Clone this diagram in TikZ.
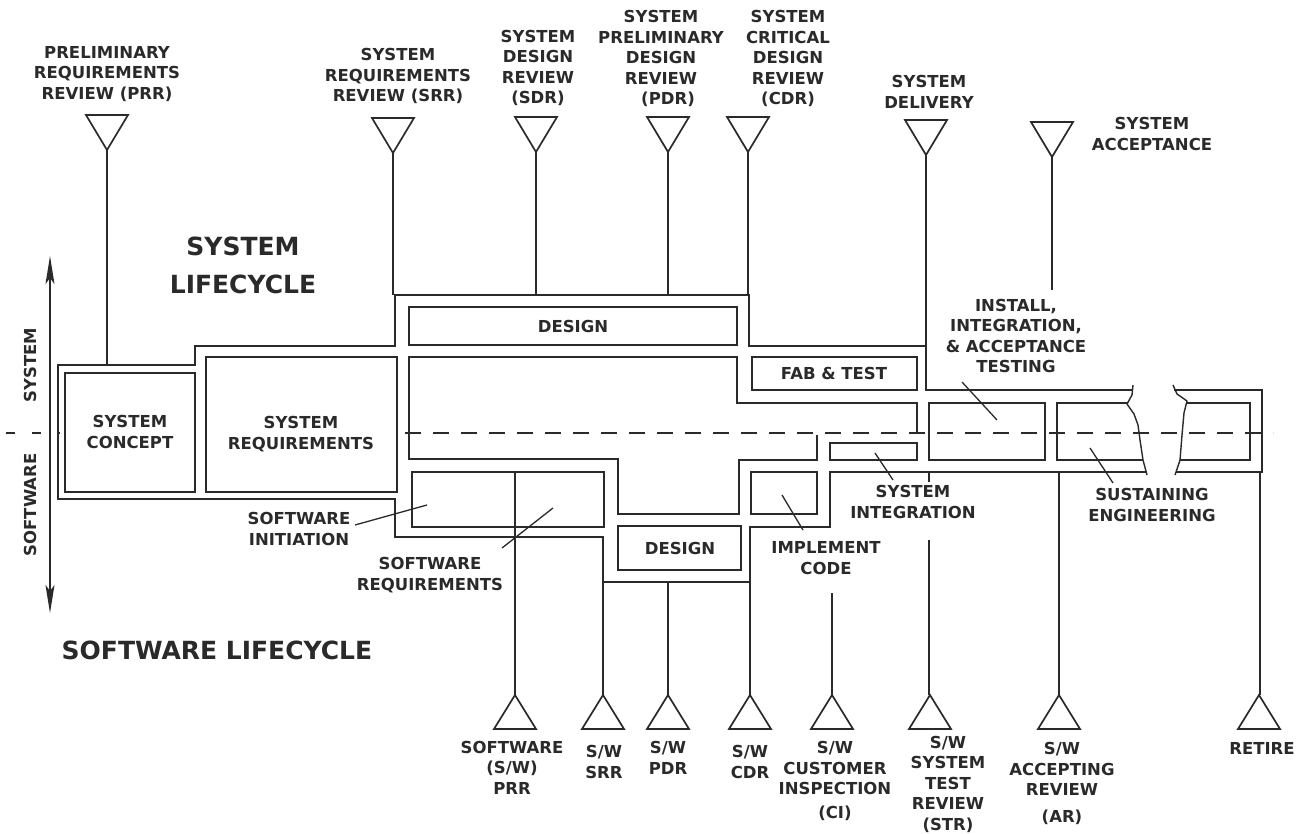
\documentclass[tikz,border=0pt]{standalone}
\usepackage{fontspec}
\setmainfont{DejaVu Sans}
\usetikzlibrary{arrows.meta}
\definecolor{ink}{HTML}{2A2A2A}
\begin{document}
\begin{tikzpicture}[x=1pt,y=-1pt,
  wall/.style={draw=ink,line width=2.7pt,line join=miter},
  pole/.style={draw=ink,line width=1.4pt},
  lead/.style={draw=ink,line width=1.3pt},
  brk/.style={draw=ink,line width=1.4pt,line join=round},
  tri/.style={draw=ink,line width=1.7pt,line join=miter},
  lbl/.style={text=ink,font=\bfseries\fontsize{16.5}{20.5}\selectfont,align=center,inner sep=0pt},
  big/.style={text=ink,font=\bfseries\fontsize{25}{38}\selectfont,align=center,inner sep=0pt},
  downtri/.pic={\draw[tri] (-21,0) -- (21,0) -- (0,35) -- cycle;},
  uptri/.pic={\draw[tri] (-21,0) -- (21,0) -- (0,-34) -- cycle;}
  ]
\useasboundingbox (0,0) rectangle (1304,834);
\fill[white] (0,0) rectangle (1304,834);

% ---------- outer contour ----------
\draw[wall] (1147,472) -- (830,472) -- (830,527) -- (750,527) -- (750,582) -- (603,582) -- (603,537)
  -- (395,537) -- (395,499) -- (58,499) -- (58,365) -- (195,365) -- (195,346) -- (395,346)
  -- (395,295) -- (749,295) -- (749,346) -- (926,346) -- (926,390) -- (1133,390);
\draw[wall] (1174,390) -- (1262,390) -- (1262,472) -- (1176,472);

% ---------- inner boxes ----------
\draw[wall] (65,373) rectangle (195,492);
\draw[wall] (206,357) rectangle (397,492);
\draw[wall] (409,307) rectangle (737,345);
\draw[wall] (817,435) -- (817,460) -- (739,460) -- (739,514) -- (618,514) -- (618,459) -- (409,459)
  -- (409,357) -- (737,357) -- (737,403) -- (917,403) -- (917,433);
\draw[wall] (752,357) rectangle (917,390);
\draw[wall] (830,443) rectangle (917,460);
\draw[wall] (751,472) rectangle (817,514);
\draw[wall] (412,472) rectangle (604,527);
\draw[wall] (618,526) rectangle (741,570);
\draw[wall] (929,403) rectangle (1045,460);
\draw[wall] (1128,403) -- (1057,403) -- (1057,460) -- (1143,460);
\draw[wall] (1186,403) -- (1250,403) -- (1250,460) -- (1180,460);

% break lines
\draw[brk] (1133,385) -- (1132,395) -- (1127,404) -- (1134,414) -- (1138,425) -- (1140,440) -- (1143,460) -- (1147,475);
\draw[brk] (1173,385) -- (1177,394) -- (1187,401) -- (1184,413) -- (1182,435) -- (1180,460) -- (1175,475);

% dashed centre line
\draw[draw=ink,line width=2pt,dash pattern=on 16pt off 12pt] (405,433) -- (1273,433);
\draw[draw=ink,line width=2pt,dash pattern=on 9pt off 17pt] (6,433) -- (60,433);

% vertical axis arrow
\coordinate (axT) at (50,256);
\coordinate (axB) at (50,613);
\draw[draw=ink,line width=1.6pt,{Stealth[length=28pt,width=9pt,inset=6pt]}-{Stealth[length=28pt,width=9pt,inset=6pt]}] (axT) -- (axB);

% ---------- top milestones ----------
\pic at (107,115) {downtri};
\pic at (393,118) {downtri};
\pic at (536,117) {downtri};
\pic at (668,117) {downtri};
\pic at (748,117) {downtri};
\pic at (926,120) {downtri};
\pic at (1052,122) {downtri};
\draw[pole] (107,150) -- (107,365);
\draw[pole] (393,153) -- (393,295);
\draw[pole] (536,152) -- (536,295);
\draw[pole] (668,152) -- (668,295);
\draw[pole] (748,152) -- (748,295);
\draw[pole] (926,155) -- (926,346);
\draw[pole] (1052,157) -- (1052,290);

% ---------- bottom milestones ----------
\foreach \x in {515,603,668,750,832,930,1059,1259} {\pic at (\x,729) {uptri};}
\draw[pole] (515,472) -- (515,695);
\draw[pole] (603,582) -- (603,695);
\draw[pole] (668,582) -- (668,695);
\draw[pole] (750,582) -- (750,695);
\draw[pole] (832,593) -- (832,695);
\draw[pole] (929,472) -- (929,482);
\draw[pole] (929,540) -- (929,695);
\draw[pole] (1059,472) -- (1059,695);
\draw[pole] (1260,472) -- (1260,695);

% ---------- labels ----------
\node[lbl] (prr) at (107,74) {PRELIMINARY\\REQUIREMENTS\\REVIEW (PRR)};
\node[lbl] (srr) at (398,76) {SYSTEM\\REQUIREMENTS\\REVIEW (SRR)};
\node[lbl] (sdr) at (538,68) {SYSTEM\\DESIGN\\REVIEW\\(SDR)};
\node[lbl] (pdr) at (661,58.5) {SYSTEM\\PRELIMINARY\\DESIGN\\REVIEW\\\hspace*{14pt}(PDR)};
\node[lbl] (cdr) at (788,58.5) {SYSTEM\\CRITICAL\\DESIGN\\REVIEW\\(CDR)};
\node[lbl] (del) at (929,92) {SYSTEM\\DELIVERY};
\node[lbl] (acc) at (1152,134) {SYSTEM\\ACCEPTANCE};

\node[big] (slc) at (243,265) {SYSTEM\\LIFECYCLE};
\node[big] (swlc) at (217,650) {SOFTWARE LIFECYCLE};
\node[lbl,rotate=90] (vsys) at (30,365) {SYSTEM};
\node[lbl,rotate=90] (vsw) at (30,505) {SOFTWARE};

\node[lbl] (concept) at (130,432) {SYSTEM\\CONCEPT};
\node[lbl] (sysreq) at (301,434) {SYSTEM\\REQUIREMENTS};
\node[lbl] (design1) at (573,326) {DESIGN};
\node[lbl] (fab) at (834,373) {FAB \& TEST};
\node[lbl] (design2) at (680,548) {DESIGN};
\node[lbl] (install) at (1016,336) {INSTALL,\\INTEGRATION,\\\& ACCEPTANCE\\TESTING};
\node[lbl] (sysint) at (913,502) {SYSTEM\\INTEGRATION};
\node[lbl] (sustain) at (1152,505) {SUSTAINING\\ENGINEERING};
\node[lbl] (impl) at (826,558) {IMPLEMENT\\CODE};
\node[lbl] (swreq) at (430,575) {SOFTWARE\\REQUIREMENTS};
\node[lbl] (swinit) at (299,529) {SOFTWARE\\INITIATION};

\node[lbl] (bprr) at (512,767.5) {SOFTWARE\\(S/W)\\PRR};
\node[lbl] (bsrr) at (604,762) {S/W\\SRR};
\node[lbl] (bpdr) at (668,758) {S/W\\PDR};
\node[lbl] (bcdr) at (750,762) {S/W\\CDR};
\node[lbl] (bci) at (835,781) {S/W\\CUSTOMER\\INSPECTION\\[3pt](CI)};
\node[lbl] (bstr) at (948,784) {S/W\\SYSTEM\\TEST\\REVIEW\\(STR)};
\node[lbl] (bar) at (1062,783.5) {S/W\\ACCEPTING\\REVIEW\\[6pt](AR)};
\node[lbl] (bret) at (1262,748) {RETIRE};

% ---------- leaders ----------
\coordinate (l1a) at (355,525); \coordinate (l1b) at (427,505);
\coordinate (l2a) at (502,548); \coordinate (l2b) at (553,508);
\coordinate (l3a) at (803,530); \coordinate (l3b) at (782,495);
\coordinate (l4a) at (893,480); \coordinate (l4b) at (875,453);
\coordinate (l5a) at (962,382); \coordinate (l5b) at (997,420);
\coordinate (l6a) at (1113,483); \coordinate (l6b) at (1090,448);
\draw[lead] (l1a) -- (l1b);
\draw[lead] (l2a) -- (l2b);
\draw[lead] (l3a) -- (l3b);
\draw[lead] (l4a) -- (l4b);
\draw[lead] (l5a) -- (l5b);
\draw[lead] (l6a) -- (l6b);
\end{tikzpicture}
\end{document}
